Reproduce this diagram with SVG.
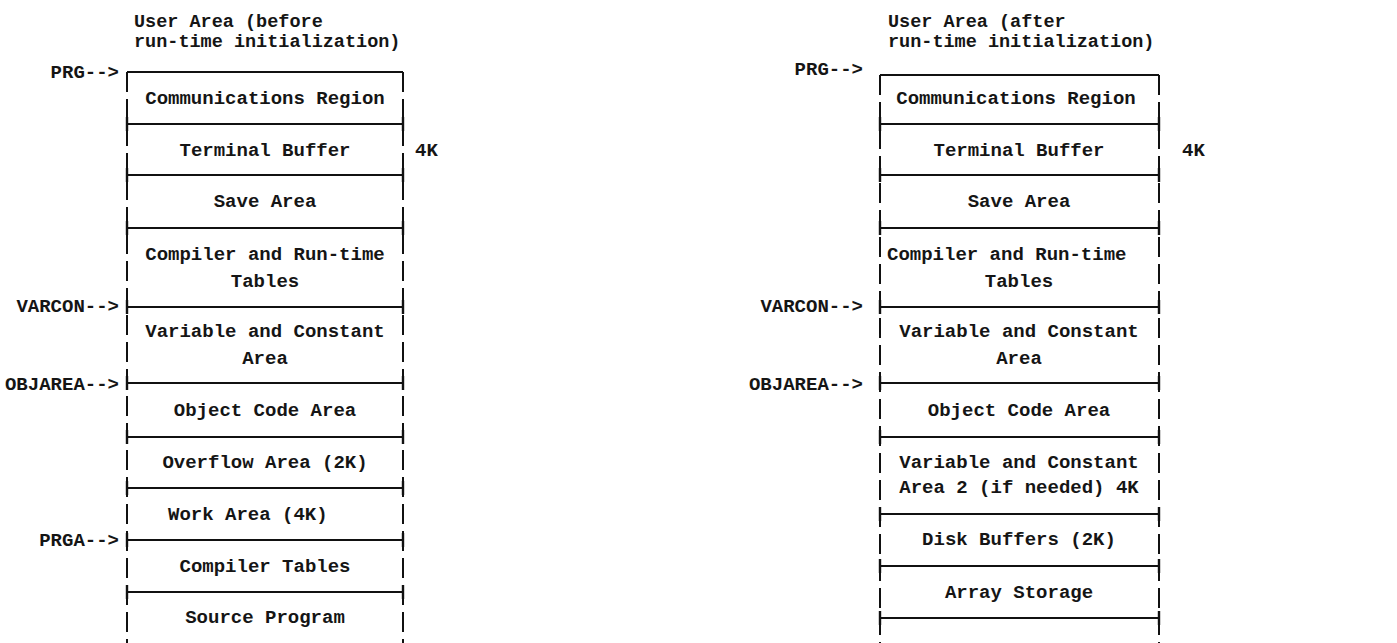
<svg xmlns="http://www.w3.org/2000/svg" width="1397" height="643" viewBox="0 0 1397 643">
<style>
text{font-family:"Liberation Mono","Courier New",monospace;font-size:19px;font-weight:bold;fill:#151515;}
.t{font-size:18.5px;}
.c{text-anchor:middle;}
.r{text-anchor:end;}
.h{stroke:#111;stroke-width:2.2;fill:none;}
.v{stroke:#111;stroke-width:2;fill:none;stroke-dasharray:20 7;}
.tk{stroke:#111;stroke-width:2.4;fill:none;}
</style>
<rect width="1397" height="643" fill="#fff"/>

<g id="left-title">
<text class="t" x="134" y="27">User Area (before</text>
<text class="t" x="134" y="47">run-time initialization)</text>
</g>
<g id="right-title">
<text class="t" x="888" y="27">User Area (after</text>
<text class="t" x="888" y="47">run-time initialization)</text>
</g>

<g id="connectors">
<!-- left box frame -->
<line class="v" x1="127" y1="72" x2="127" y2="643"/>
<line class="v" x1="403" y1="72" x2="403" y2="643"/>
<line class="h" x1="127" y1="72" x2="403" y2="72"/>
<line class="h" x1="127" y1="124" x2="403" y2="124"/>
<line class="h" x1="127" y1="175" x2="403" y2="175"/>
<line class="h" x1="127" y1="228" x2="403" y2="228"/>
<line class="h" x1="127" y1="307" x2="403" y2="307"/>
<line class="h" x1="127" y1="383" x2="403" y2="383"/>
<line class="h" x1="127" y1="437" x2="403" y2="437"/>
<line class="h" x1="127" y1="488" x2="403" y2="488"/>
<line class="h" x1="127" y1="540" x2="403" y2="540"/>
<line class="h" x1="127" y1="592" x2="403" y2="592"/>
<path class="tk" d="M127,117V131M403,117V131M127,168V182M403,168V182M127,221V235M403,221V235M127,300V314M403,300V314M127,376V390M403,376V390M127,430V444M403,430V444M127,481V495M403,481V495M127,533V547M403,533V547M127,585V599M403,585V599"/>
<!-- right box frame -->
<line class="v" x1="880" y1="75" x2="880" y2="643"/>
<line class="v" x1="1159" y1="75" x2="1159" y2="643"/>
<line class="h" x1="880" y1="75" x2="1159" y2="75"/>
<line class="h" x1="880" y1="124" x2="1159" y2="124"/>
<line class="h" x1="880" y1="175" x2="1159" y2="175"/>
<line class="h" x1="880" y1="228" x2="1159" y2="228"/>
<line class="h" x1="880" y1="307" x2="1159" y2="307"/>
<line class="h" x1="880" y1="383" x2="1159" y2="383"/>
<line class="h" x1="880" y1="437" x2="1159" y2="437"/>
<line class="h" x1="880" y1="514" x2="1159" y2="514"/>
<line class="h" x1="880" y1="566" x2="1159" y2="566"/>
<line class="h" x1="880" y1="618" x2="1159" y2="618"/>
<path class="tk" d="M880,117V131M1159,117V131M880,168V182M1159,168V182M880,221V235M1159,221V235M880,300V314M1159,300V314M880,376V390M1159,376V390M880,430V444M1159,430V444M880,507V521M1159,507V521M880,559V573M1159,559V573M880,611V625M1159,611V625"/>
</g>

<g id="left-pointers">
<text class="r" x="119" y="78">PRG--&gt;</text>
<text class="r" x="119" y="312">VARCON--&gt;</text>
<text class="r" x="119" y="390">OBJAREA--&gt;</text>
<text class="r" x="119" y="546">PRGA--&gt;</text>
</g>
<g id="right-pointers">
<text class="r" x="863" y="75">PRG--&gt;</text>
<text class="r" x="863" y="312">VARCON--&gt;</text>
<text class="r" x="863" y="390">OBJAREA--&gt;</text>
</g>

<g id="L-comm"><text class="c" x="265" y="104">Communications Region</text></g>
<g id="L-term"><text class="c" x="265" y="156">Terminal Buffer</text><text x="415" y="156">4K</text></g>
<g id="L-save"><text class="c" x="265" y="207">Save Area</text></g>
<g id="L-tables"><text class="c" x="265" y="260">Compiler and Run-time</text><text class="c" x="265" y="287">Tables</text></g>
<g id="L-varcon"><text class="c" x="265" y="337">Variable and Constant</text><text class="c" x="265" y="364">Area</text></g>
<g id="L-obj"><text class="c" x="265" y="416">Object Code Area</text></g>
<g id="L-overflow"><text class="c" x="265" y="468">Overflow Area (2K)</text></g>
<g id="L-work"><text x="168" y="520">Work Area (4K)</text></g>
<g id="L-ctables"><text class="c" x="265" y="572">Compiler Tables</text></g>
<g id="L-source"><text class="c" x="265" y="623">Source Program</text></g>

<g id="R-comm"><text class="c" x="1016" y="104">Communications Region</text></g>
<g id="R-term"><text class="c" x="1019" y="156">Terminal Buffer</text><text x="1182" y="156">4K</text></g>
<g id="R-save"><text class="c" x="1019" y="207">Save Area</text></g>
<g id="R-tables"><text x="887" y="260">Compiler and Run-time</text><text class="c" x="1019" y="287">Tables</text></g>
<g id="R-varcon"><text class="c" x="1019" y="337">Variable and Constant</text><text class="c" x="1019" y="364">Area</text></g>
<g id="R-obj"><text class="c" x="1019" y="416">Object Code Area</text></g>
<g id="R-varcon2"><text class="c" x="1019" y="468">Variable and Constant</text><text class="c" x="1019" y="493">Area 2 (if needed) 4K</text></g>
<g id="R-disk"><text class="c" x="1019" y="545">Disk Buffers (2K)</text></g>
<g id="R-array"><text class="c" x="1019" y="598">Array Storage</text></g>
</svg>
